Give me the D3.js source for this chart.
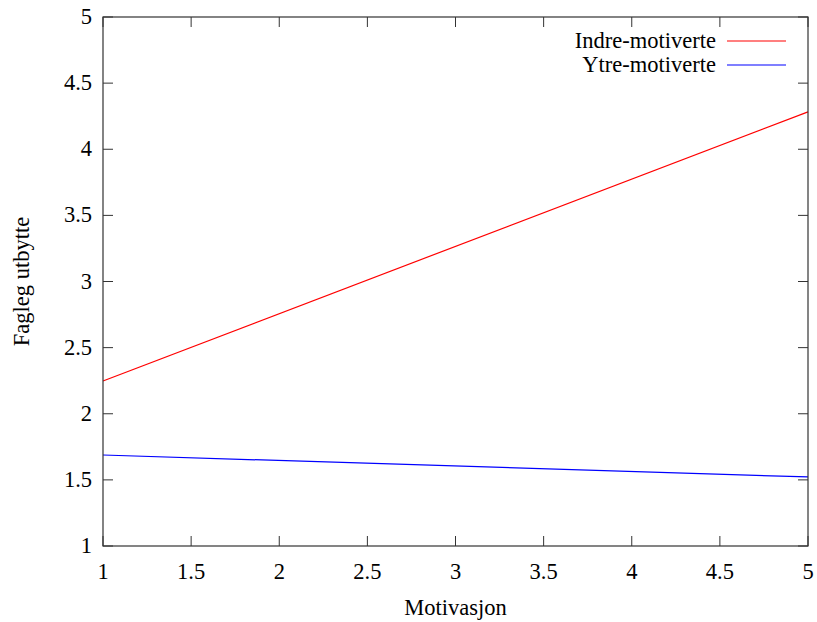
<!DOCTYPE html>
<html><head><meta charset="utf-8">
<script src="https://cdn.jsdelivr.net/npm/d3@7"></script>
<style>body{margin:0;background:#fff}svg{display:block}text{font-family:"Liberation Serif","Times New Roman",serif;fill:#000}</style>
</head><body>
<script>
const seriesNames = ["Indre-motiverte", "Ytre-motiverte"];
const seriesColors = ["#ff0000", "#0000ff"];
const xValues = [1, 5];
const indreValues = [2.248, 4.283];
const ytreValues = [1.688, 1.522];
const xTicks = [1, 1.5, 2, 2.5, 3, 3.5, 4, 4.5, 5];
const yTicks = [1, 1.5, 2, 2.5, 3, 3.5, 4, 4.5, 5];
const xTitle = "Motivasjon";
const yTitle = "Fagleg utbytte";

const W = 817, H = 622;
const L = 103, R = 808, T = 17, B = 546;
const fs = 22.5;
const svg = d3.select("body").append("svg").attr("width", W).attr("height", H);
const x = d3.scaleLinear().domain([1, 5]).range([L, R]);
const y = d3.scaleLinear().domain([1, 5]).range([B, T]);
const fmt = d => String(d);
const axCol = "#333";
const tickLen = 10;

const g = svg.append("g");
xTicks.forEach(t => {
  g.append("line").attr("x1", x(t)).attr("x2", x(t)).attr("y1", B).attr("y2", B - tickLen).attr("stroke", axCol);
  g.append("line").attr("x1", x(t)).attr("x2", x(t)).attr("y1", T).attr("y2", T + tickLen).attr("stroke", axCol);
  g.append("text").attr("x", x(t)).attr("y", B + 33).attr("text-anchor", "middle").attr("font-size", fs).text(fmt(t));
});
yTicks.forEach(t => {
  g.append("line").attr("x1", L).attr("x2", L + tickLen).attr("y1", y(t)).attr("y2", y(t)).attr("stroke", axCol);
  g.append("line").attr("x1", R).attr("x2", R - tickLen).attr("y1", y(t)).attr("y2", y(t)).attr("stroke", axCol);
  g.append("text").attr("x", L - 11).attr("y", y(t) + 7).attr("text-anchor", "end").attr("font-size", fs).text(fmt(t));
});

const line = d3.line().x(d => x(d[0])).y(d => y(d[1]));
[indreValues, ytreValues].forEach((vals, i) => {
  svg.append("path").datum(xValues.map((xv, j) => [xv, vals[j]]))
    .attr("d", line).attr("fill", "none").attr("stroke", seriesColors[i]).attr("stroke-width", 1.2);
});

svg.append("rect").attr("x", L).attr("y", T).attr("width", R - L).attr("height", B - T)
  .attr("fill", "none").attr("stroke", axCol).attr("stroke-width", 1.2);

seriesNames.forEach((n, i) => {
  const ly = 41 + i * 24;
  svg.append("text").attr("x", 716).attr("y", ly + 7).attr("text-anchor", "end").attr("font-size", fs).text(n);
  svg.append("line").attr("x1", 727).attr("x2", 786).attr("y1", ly).attr("y2", ly).attr("stroke", seriesColors[i]).attr("stroke-width", 1.2);
});

svg.append("text").attr("x", (L + R) / 2).attr("y", 615).attr("text-anchor", "middle").attr("font-size", fs).text(xTitle);
svg.append("text").attr("transform", `translate(29,${(T + B) / 2}) rotate(-90)`).attr("text-anchor", "middle").attr("font-size", fs).text(yTitle);
</script>
</body></html>
